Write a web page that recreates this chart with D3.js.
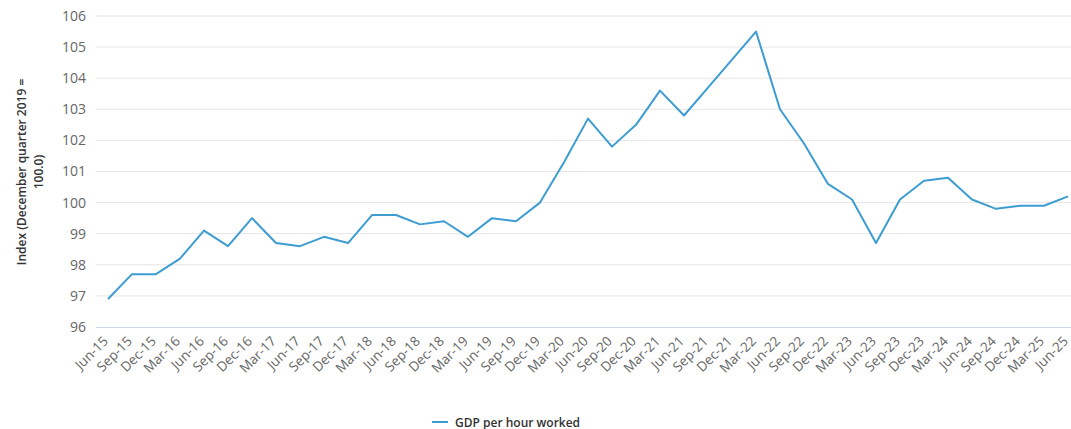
<!DOCTYPE html>
<html>
<head>
<meta charset="utf-8">
<script src="https://cdn.jsdelivr.net/npm/d3@7"></script>
<style>
  html, body { margin: 0; padding: 0; background: #fff; }
  svg { display: block; font-family: "Open Sans", "Noto Sans", sans-serif; }
</style>
</head>
<body>
<svg id="chart" width="1071" height="429"></svg>
<script>
// Quarterly labels, Jun-15 to Jun-25
const quarters = [
  "Jun-15","Sep-15","Dec-15","Mar-16","Jun-16","Sep-16","Dec-16","Mar-17","Jun-17","Sep-17",
  "Dec-17","Mar-18","Jun-18","Sep-18","Dec-18","Mar-19","Jun-19","Sep-19","Dec-19","Mar-20",
  "Jun-20","Sep-20","Dec-20","Mar-21","Jun-21","Sep-21","Dec-21","Mar-22","Jun-22","Sep-22",
  "Dec-22","Mar-23","Jun-23","Sep-23","Dec-23","Mar-24","Jun-24","Sep-24","Dec-24","Mar-25","Jun-25"
];

// GDP per hour worked, index (December quarter 2019 = 100.0)
const gdpPerHour = [
  96.9, 97.7, 97.7, 98.2, 99.1, 98.6, 99.5, 98.7, 98.6, 98.9,
  98.7, 99.6, 99.6, 99.3, 99.4, 98.9, 99.5, 99.4, 100.0, 101.3,
  102.7, 101.8, 102.5, 103.6, 102.8, 103.7, 104.6, 105.5, 103.0, 101.9,
  100.6, 100.1, 98.7, 100.1, 100.7, 100.8, 100.1, 99.8, 99.9, 99.9, 100.2
];

const yTicks = [96, 97, 98, 99, 100, 101, 102, 103, 104, 105, 106];
const seriesName = "GDP per hour worked";
const yTitleLines = ["Index (December quarter 2019 =", "100.0)"];

const svg = d3.select("#chart");
const plot = { left: 96, right: 1080, top: 16, bottom: 327 };
const lineColor = "#3d9cd2";

const x = d3.scaleBand().domain(quarters).range([plot.left, plot.right]);
const y = d3.scaleLinear().domain([96, 106]).range([plot.bottom, plot.top]);

// Horizontal grid lines
svg.append("g")
  .selectAll("line")
  .data(yTicks.filter(d => d !== 96))
  .join("line")
  .attr("x1", plot.left).attr("x2", 1071)
  .attr("y1", d => y(d)).attr("y2", d => y(d))
  .attr("stroke", "#e6e6e6").attr("stroke-width", 1);

// Y axis labels
const yAxis = svg.append("g")
  .attr("transform", `translate(${plot.left - 10},0)`)
  .call(d3.axisLeft(y).tickValues(yTicks).tickSize(0).tickPadding(0).tickFormat(d3.format("d")));
yAxis.select(".domain").remove();
yAxis.selectAll("text")
  .attr("fill", "#666666")
  .style("font-size", "14px")
  .style("font-family", "'Open Sans', 'Noto Sans', sans-serif");

// X axis baseline and rotated labels
const xAxis = svg.append("g")
  .attr("transform", `translate(0,${plot.bottom})`)
  .call(d3.axisBottom(x).tickSize(0).tickPadding(0));
xAxis.select(".domain")
  .attr("d", `M${plot.left},0.5H1071`)
  .attr("stroke", "#ccd6eb");
xAxis.selectAll("text")
  .attr("fill", "#666666")
  .style("font-size", "13.5px")
  .style("font-family", "'Open Sans', 'Noto Sans', sans-serif")
  .attr("text-anchor", "end")
  .attr("dy", null)
  .attr("transform", "translate(1,15) rotate(-45)");

// Y axis title
const yTitle = svg.append("text")
  .attr("transform", "translate(28,172) rotate(-90)")
  .attr("text-anchor", "middle")
  .attr("fill", "#333333")
  .style("font-size", "12px")
  .style("font-weight", "600");
yTitle.selectAll("tspan")
  .data(yTitleLines)
  .join("tspan")
  .attr("x", 0)
  .attr("dy", (d, i) => i === 0 ? "-0.2em" : "1.45em")
  .text(d => d);

// Series line
const line = d3.line()
  .x((d, i) => x(quarters[i]) + x.bandwidth() / 2)
  .y(d => y(d));
svg.append("path")
  .datum(gdpPerHour)
  .attr("fill", "none")
  .attr("stroke", lineColor)
  .attr("stroke-width", 2)
  .attr("stroke-linejoin", "round")
  .attr("d", line);

// Legend
const legend = svg.append("g").attr("transform", "translate(432,422)");
legend.append("line")
  .attr("x1", 0).attr("x2", 16).attr("y1", 0).attr("y2", 0)
  .attr("stroke", lineColor).attr("stroke-width", 2);
legend.append("text")
  .attr("x", 23).attr("y", 4.5)
  .attr("fill", "#333333")
  .style("font-size", "12px")
  .style("font-weight", "600")
  .text(seriesName);
</script>
</body>
</html>
